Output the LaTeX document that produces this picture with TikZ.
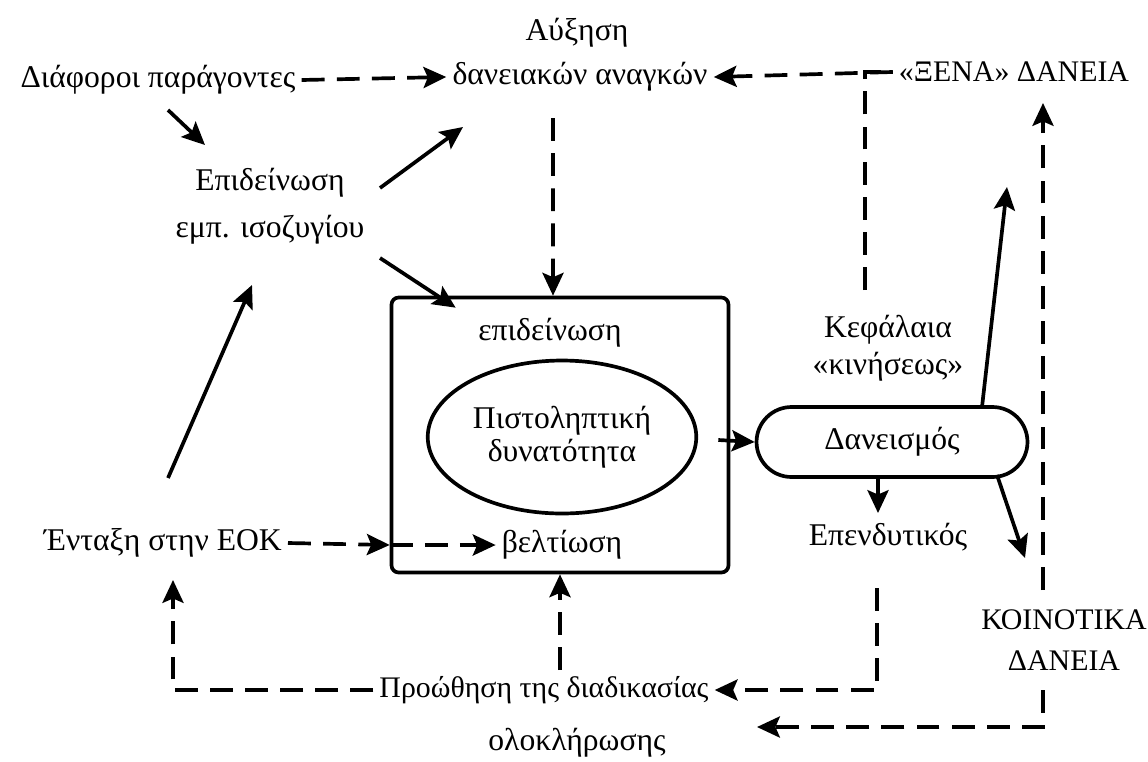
\documentclass[tikz,border=0pt]{standalone}
\usepackage{fontspec}
\setmainfont{Liberation Serif}
\usepackage{tikz}
\usetikzlibrary{arrows.meta,shapes.geometric,positioning}
\tikzstyle{arrow} = [line width=2.1pt,-{Stealth[length=13pt,width=12pt,inset=2.5pt]}]
\tikzstyle{dasharrow} = [arrow, dash pattern=on 13pt off 7pt]
\tikzstyle{dashline} = [line width=2.1pt, dash pattern=on 13pt off 7pt]
\tikzstyle{txt} = [align=center]
\tikzstyle{caps} = [font=\fontsize{17}{23}\selectfont]
\tikzstyle{bigbox} = [rectangle, rounded corners=4pt, draw, line width=2.1pt, minimum width=6.74cm, minimum height=5.5cm]
\tikzstyle{oval} = [ellipse, draw, line width=2.1pt, minimum width=4.54cm, minimum height=3.06cm, align=center]
\tikzstyle{capsule} = [rectangle, rounded corners=0.7cm, draw, line width=2.1pt, minimum width=5.42cm, minimum height=1.4cm]

\begin{document}
\begin{tikzpicture}[x=0.02cm, y=-0.02cm, font=\fontsize{18}{25}\selectfont]
    \useasboundingbox (0,0) rectangle (1148,761);

    % Top row
    \node (diafora) at (158,80) {Διάφοροι παράγοντες};
    \node (auxisi) at (577,33) {Αύξηση};
    \node (anagkes) at (580,77) {δανειακών αναγκών};
    \node[caps] (xena) at (1014,72) {«ΞΕΝΑ» ΔΑΝΕΙΑ};
    \node[txt, font=\fontsize{18}{26.6}\selectfont] (epid) at (270,206) {Επιδείνωση\\εμπ. ισοζυγίου};

    % Central box
    \node[bigbox] (pistbox) at (560,435) {};
    \node (epideinosi) at (550,333) {επιδείνωση};
    \node[oval, font=\fontsize{18}{19}\selectfont] (pist) at (562,437) {Πιστοληπτική\\δυνατότητα};
    \node (veltiosi) at (562,545) {βελτίωση};

    % Right side
    \node[txt, font=\fontsize{18}{21}\selectfont] (kefalaia) at (888,348) {Κεφάλαια\\«κινήσεως»};
    \node[capsule] (daneismos) at (892,442) {Δανεισμός};
    \node (epend) at (888,537) {Επενδυτικός};
    \node[txt, caps] (koinotika) at (1064,640) {ΚΟΙΝΟΤΙΚΑ\\ΔΑΝΕΙΑ};

    % Left and bottom
    \node (entaxi) at (163,543) {Ένταξη στην ΕΟΚ};
    \node[font=\fontsize{17}{23}\selectfont] (proothisi) at (544,690) {Προώθηση της διαδικασίας};
    \node (oloklirosi) at (577,743) {ολοκλήρωσης};

    % Solid arrows
    \draw[arrow] ([shift={(10,30)}]diafora.center) -- ([shift={(-65,-61)}]epid.center);
    \draw[arrow] ([shift={(110,-18)}]epid.center) -- ([shift={(-117,50)}]anagkes.center);
    \draw[arrow] ([shift={(110,52)}]epid.center) -- ([shift={(66,12)}]pistbox.north west);
    \draw[arrow] ([shift={(5,-65)}]entaxi.center) -- ([shift={(-18,79)}]epid.center);
    \draw[arrow] ([shift={(-12,5)}]pistbox.east) -- (daneismos.west);
    \draw[arrow] ([shift={(90,-35)}]daneismos.center) -- ([shift={(-7,115)}]xena.center);
    \draw[arrow] ([shift={(-14,35)}]daneismos.center) -- ([shift={(-10,-24)}]epend.center);
    \draw[arrow] ([shift={(105,33)}]daneismos.center) -- ([shift={(-39,-82)}]koinotika.center);

    % Dashed connections
    \draw[dasharrow] (diafora.east) -- (anagkes.west);
    \draw[dasharrow] (xena.west) -- (anagkes.east);
    \draw[dashline] ([shift={(-23,-58)}]kefalaia.center) |- (xena.west);
    \draw[dasharrow] ([shift={(-27,41)}]anagkes.center) -- ([xshift=-0.14cm]pistbox.north);
    \draw[dasharrow] (entaxi.east) -- (pistbox.west |- veltiosi.west);
    \draw[dasharrow] (pistbox.west |- veltiosi.west) -- (veltiosi.west);
    \draw[dasharrow] (proothisi.west) -| ([shift={(10,37)}]entaxi.center);
    \draw[dasharrow] (pistbox.south |- proothisi.north) -- (pistbox.south);
    \draw[dasharrow] ([shift={(-11,51)}]epend.center) |- (proothisi.east);
    \draw[dasharrow] ([shift={(-21,-50)}]koinotika.center) -- ([shift={(29,31)}]xena.center);
    \draw[dasharrow] ([shift={(-21,50)}]koinotika.center) |- ([shift={(180,-16)}]oloklirosi.center);
\end{tikzpicture}
\end{document}
